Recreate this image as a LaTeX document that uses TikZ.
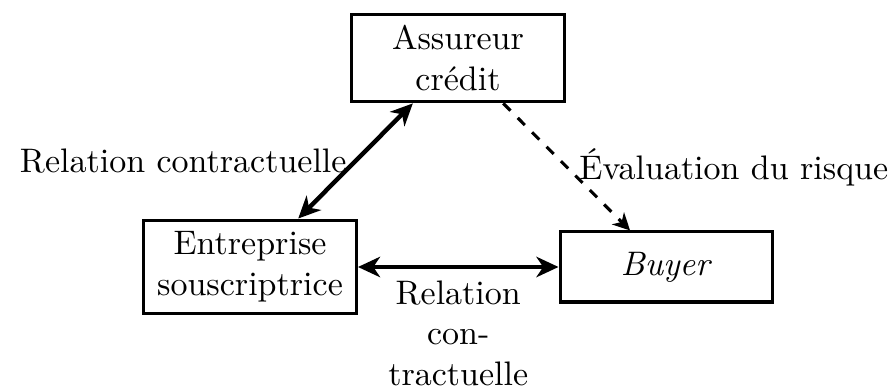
\documentclass[tikz,border=0pt]{standalone}
\usetikzlibrary{arrows.meta}
\begin{document}
\begin{tikzpicture}[x=0.294pt,y=-0.294pt,
  boxnode/.style={draw, line width=0.9pt, minimum width=62.6pt, align=center, inner sep=0pt},
  rel/.style={line width=1.3pt, {Stealth[length=6.5pt,width=6pt,inset=2pt]}-{Stealth[length=6.5pt,width=6pt,inset=2pt]}},
  evalarrow/.style={line width=0.9pt, dashed, -{Stealth[length=5pt,width=5pt,inset=1.5pt]}},
  lbl/.style={inner sep=3.3pt}
]
\useasboundingbox (0,0) rectangle (896,389);
\node[boxnode, minimum height=25.8pt] (A) at (458,58) {Assureur\\crédit};
\node[boxnode, minimum height=27.6pt] (E) at (250,267) {Entreprise\\souscriptrice};
\node[boxnode, minimum height=20.6pt] (B) at (666.5,267) {\textit{Buyer}};
\draw[rel] (E) -- node[lbl, left, inner sep=2pt] {Relation contractuelle} (A);
\draw[evalarrow] (A) -- node[lbl, right] {Évaluation du risque} (B);
\draw[rel] (E) -- node[lbl, below, align=center] {Relation\\con-\\tractuelle} (B);
\end{tikzpicture}
\end{document}
